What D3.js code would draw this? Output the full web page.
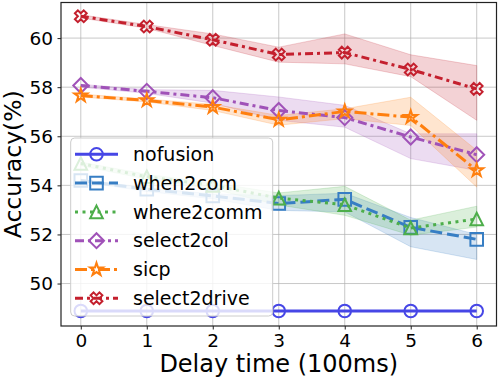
<!DOCTYPE html>
<html><head><meta charset="utf-8">
<script src="https://cdn.jsdelivr.net/npm/d3@7"></script>
<style>body{margin:0;background:#fff}svg{display:block;font-family:"DejaVu Sans",sans-serif}</style>
</head><body>
<svg id="c" width="498" height="381"></svg>
<script>
const xs = [0,1,2,3,4,5,6];
const xTicks = [0,1,2,3,4,5,6];
const yTicks = [50,52,54,56,58,60];
const names = ["nofusion","when2com","where2comm","select2col","sicp","select2drive"];
const nofusion     = [48.88,48.88,48.88,48.88,48.88,48.88,48.88];
const when2com     = [54.20,53.84,53.57,53.26,53.43,52.29,51.80];
const where2comm   = [54.89,54.35,54.00,53.48,53.21,52.26,52.63];
const select2col   = [58.07,57.83,57.57,57.05,56.76,55.97,55.25];
const sicp         = [57.66,57.46,57.19,56.67,57.01,56.78,54.61];
const select2drive = [60.89,60.47,59.93,59.33,59.41,58.72,57.93];
const when2comLo     = [54.15,53.75,53.45,52.98,52.92,51.50,50.98];
const when2comHi     = [54.25,53.90,53.65,53.58,53.68,52.69,52.00];
const where2commLo   = [54.80,54.25,53.85,53.20,52.78,51.97,52.30];
const where2commHi   = [54.95,54.45,54.10,53.69,53.96,52.58,53.15];
const select2colLo   = [58.00,57.75,57.35,56.65,56.37,55.09,54.61];
const select2colHi   = [58.12,57.90,57.87,57.60,57.26,56.10,56.10];
const sicpLo         = [57.60,57.40,57.05,56.45,56.72,56.44,53.93];
const sicpHi         = [57.72,57.52,57.30,56.85,57.12,57.59,55.43];
const select2driveLo = [60.82,60.40,59.70,59.02,58.95,58.43,56.65];
const select2driveHi = [60.95,60.55,60.17,59.63,60.17,59.32,58.88];

const series = [
  {name:names[0], v:nofusion, lo:null, hi:null, color:"#4646e6", dash:null, marker:"circle"},
  {name:names[1], v:when2com, lo:when2comLo, hi:when2comHi, color:"#377ec4", dash:"12,5", marker:"square"},
  {name:names[2], v:where2comm, lo:where2commLo, hi:where2commHi, color:"#4dae4a", dash:"3,4.5", marker:"triangle"},
  {name:names[3], v:select2col, lo:select2colLo, hi:select2colHi, color:"#a052b8", dash:"9,4,3,4", marker:"diamond"},
  {name:names[4], v:sicp, lo:sicpLo, hi:sicpHi, color:"#ff7f0e", dash:"12,4,3,4", marker:"star"},
  {name:names[5], v:select2drive, lo:select2driveLo, hi:select2driveHi, color:"#c4202e", dash:"8,4,3,4", marker:"X"}
];

const L = 61, R = 496.5, T = 2.5, B = 326;
const x = d3.scaleLinear().domain([-0.3,6.3]).range([L,R]);
const y = d3.scaleLinear().domain([48.27,61.45]).range([B,T]);
const svg = d3.select("#c");

function markerPath(type){
  const p = d3.path();
  if(type==="circle"){ p.arc(0,0,6.3,0,2*Math.PI); p.closePath(); }
  else if(type==="square"){ p.rect(-6.3,-6.3,12.6,12.6); }
  else if(type==="triangle"){ const h=6.3; p.moveTo(0,-h); p.lineTo(h,h); p.lineTo(-h,h); p.closePath(); }
  else if(type==="diamond"){ const h=7.5; p.moveTo(0,-h); p.lineTo(h,0); p.lineTo(0,h); p.lineTo(-h,0); p.closePath(); }
  else if(type==="star"){
    const ro=6.8, ri=ro*0.381966;
    for(let i=0;i<10;i++){ const r=i%2?ri:ro; const a=-Math.PI/2+i*Math.PI/5;
      const px=r*Math.cos(a), py=r*Math.sin(a); if(i===0)p.moveTo(px,py); else p.lineTo(px,py);} p.closePath();
  } else if(type==="X"){
    const pts=[[-1,-3],[1,-3],[1,-1],[3,-1],[3,1],[1,1],[1,3],[-1,3],[-1,1],[-3,1],[-3,-1],[-1,-1]];
    const k=12.5/6, c=Math.SQRT1_2;
    pts.forEach((q,i)=>{const px=(q[0]*c-q[1]*c)*k, py=(q[0]*c+q[1]*c)*k; if(i===0)p.moveTo(px,py); else p.lineTo(px,py);});
    p.closePath();
  }
  return p.toString();
}

// grid
const g = svg.append("g");
g.selectAll(".gx").data(xTicks).enter().append("line")
  .attr("x1",d=>x(d)).attr("x2",d=>x(d)).attr("y1",T).attr("y2",B)
  .attr("stroke","#b0b0b0").attr("stroke-width",1).attr("stroke-opacity",0.7);
g.selectAll(".gy").data(yTicks).enter().append("line")
  .attr("x1",L).attr("x2",R).attr("y1",d=>y(d)).attr("y2",d=>y(d))
  .attr("stroke","#b0b0b0").attr("stroke-width",1).attr("stroke-opacity",0.7);

// bands
const area = d3.area().x((d,i)=>x(xs[i])).y0(d=>y(d[0])).y1(d=>y(d[1]));
series.forEach(s=>{
  if(!s.lo) return;
  svg.append("path").datum(s.lo.map((l,i)=>[l,s.hi[i]]))
    .attr("d",area).attr("fill",s.color).attr("fill-opacity",0.2)
    .attr("stroke",s.color).attr("stroke-opacity",0.2).attr("stroke-width",1);
});

// lines + markers
const line = d3.line().x((d,i)=>x(xs[i])).y(d=>y(d));
series.forEach(s=>{
  svg.append("path").datum(s.v).attr("d",line).attr("fill","none")
    .attr("stroke",s.color).attr("stroke-width",3)
    .attr("stroke-dasharray",s.dash);
  svg.selectAll(null).data(s.v).enter().append("path")
    .attr("d",markerPath(s.marker))
    .attr("transform",(d,i)=>`translate(${x(xs[i])},${y(d)})`)
    .attr("fill","none").attr("stroke",s.color).attr("stroke-width",2);
});

// frame
svg.append("rect").attr("x",L).attr("y",T).attr("width",R-L).attr("height",B-T)
  .attr("fill","none").attr("stroke","#222").attr("stroke-width",1.2);

// axes
const ax = svg.append("g").attr("transform",`translate(0,${B})`)
  .call(d3.axisBottom(x).tickValues(xTicks).tickFormat(d3.format("d")).tickSize(3.5).tickPadding(4));
const ay = svg.append("g").attr("transform",`translate(${L},0)`)
  .call(d3.axisLeft(y).tickValues(yTicks).tickFormat(d3.format("d")).tickSize(3.5).tickPadding(4.5));
[ax,ay].forEach(a=>{
  a.select(".domain").remove();
  a.selectAll("text").attr("font-size",18.5).attr("fill","#000").attr("font-family","DejaVu Sans");
  a.selectAll("line").attr("stroke","#222");
});

svg.append("text").attr("x",(L+R)/2).attr("y",372).attr("text-anchor","middle")
  .attr("font-size",24).text("Delay time (100ms)");
svg.append("text").attr("transform",`translate(20.5,${(T+B)/2}) rotate(-90)`).attr("text-anchor","middle")
  .attr("font-size",23.5).text("Accuracy(%)");

// legend
const lg = svg.append("g");
lg.append("rect").attr("x",70.7).attr("y",138).attr("width",202).attr("height",178).attr("rx",4)
  .attr("fill","#fff").attr("fill-opacity",0.8).attr("stroke","#cccccc").attr("stroke-width",1);
series.forEach((s,i)=>{
  const cy = 154.3 + i*28.8;
  lg.append("line").attr("x1",75).attr("x2",118).attr("y1",cy).attr("y2",cy)
    .attr("stroke",s.color).attr("stroke-width",3).attr("stroke-dasharray",s.dash);
  lg.append("path").attr("d",markerPath(s.marker)).attr("transform",`translate(96.5,${cy})`)
    .attr("fill","none").attr("stroke",s.color).attr("stroke-width",2);
  lg.append("text").attr("x",133).attr("y",cy).attr("dy","0.35em").attr("font-size",19).text(s.name);
});
</script>
</body></html>
